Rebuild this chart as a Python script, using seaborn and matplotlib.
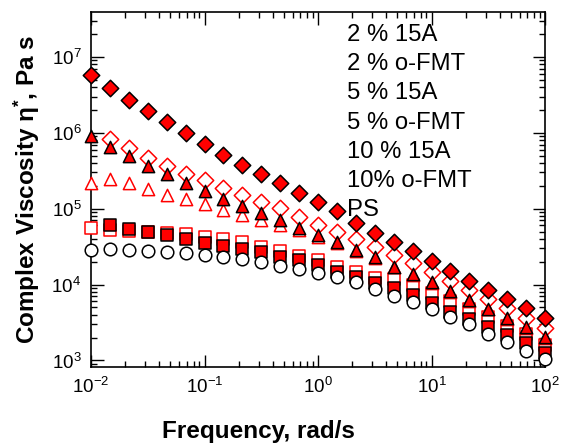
import numpy as np
import pandas as pd
import matplotlib
matplotlib.use("Agg")
import matplotlib.pyplot as plt
import matplotlib.ticker as mticker
import seaborn as sns

# Oscillatory frequency sweep, 6 points per decade (rad/s)
frequency = [0.01, 0.0147, 0.0215, 0.0316, 0.0464, 0.0681,
             0.1, 0.147, 0.215, 0.316, 0.464, 0.681,
             1.0, 1.47, 2.15, 3.16, 4.64, 6.81,
             10.0, 14.7, 21.5, 31.6, 46.4, 68.1, 100.0]

# Complex viscosity (Pa s); NaN where no point was recorded
eta_ps = [2.84e4, 2.93e4, 2.84e4, 2.79e4, 2.70e4, 2.60e4, 2.47e4, 2.32e4,
          2.17e4, 1.96e4, 1.77e4, 1.60e4, 1.40e4, 1.24e4, 1.07e4, 8.73e3,
          7.13e3, 5.83e3, 4.77e3, 3.70e3, 3.02e3, 2.25e3, 1.73e3, 1.35e3, 1.05e3]
eta_2_15a = [np.nan, 6.01e4, 5.32e4, 4.91e4, 4.44e4, 4.01e4, 3.55e4, 3.21e4,
             2.90e4, 2.70e4, 2.32e4, 2.08e4, 1.79e4, 1.47e4, 1.26e4, 1.04e4,
             8.91e3, 7.28e3, 5.66e3, 4.39e3, 3.48e3, 2.79e3, 2.17e3, 1.68e3, 1.24e3]
eta_2_ofmt = [5.62e4, 5.20e4, 5.10e4, 4.90e4, 4.72e4, 4.57e4, 4.18e4, 3.97e4,
              3.66e4, 3.14e4, 2.78e4, 2.39e4, 2.10e4, 1.71e4, 1.47e4, 1.21e4,
              1.17e4, 9.84e3, 7.80e3, 6.07e3, 4.77e3, 3.70e3, 2.87e3, 2.21e3, 1.60e3]
eta_5_15a = [8.94e5, 6.44e5, 4.91e5, 3.62e5, 2.84e5, 2.21e5, 1.70e5, 1.36e5,
             1.08e5, 8.81e4, 7.06e4, 5.59e4, 4.52e4, 3.59e4, 2.84e4, 2.28e4,
             1.71e4, 1.36e4, 1.08e4, 8.21e3, 6.31e3, 4.81e3, 3.62e3, 2.76e3, 2.06e3]
eta_5_ofmt = [2.15e5, 2.48e5, 2.15e5, 1.80e5, 1.53e5, 1.34e5, 1.16e5, 9.70e4,
              8.20e4, 7.06e4, 6.07e4, 5.17e4, 4.26e4, 3.48e4, 2.80e4, 2.26e4,
              1.68e4, 1.33e4, 1.05e4, 8.00e3, 6.10e3, 4.70e3, 3.50e3, 2.70e3, 2.00e3]
eta_10_15a = [5.70e6, 3.88e6, 2.73e6, 1.94e6, 1.37e6, 9.80e5, 7.06e5, 5.17e5,
              3.79e5, 2.84e5, 2.15e5, 1.61e5, 1.23e5, 9.27e4, 6.50e4, 4.80e4,
              3.66e4, 2.76e4, 2.04e4, 1.51e4, 1.12e4, 8.47e3, 6.39e3, 4.86e3, 3.59e3]
eta_10_ofmt = [np.nan, 8.39e5, 6.31e5, 4.72e5, 3.66e5, 2.84e5, 2.37e5, 1.90e5,
               1.51e5, 1.23e5, 1.01e5, 7.80e4, 6.07e4, 4.95e4, 3.94e4, 3.14e4,
               2.44e4, 1.90e4, 1.47e4, 1.11e4, 8.47e3, 6.44e3, 4.86e3, 3.59e3, 2.65e3]

labels = ["2 % 15A", "2 % o-FMT", "5 % 15A", "5 % o-FMT",
          "10 % 15A", "10% o-FMT", "PS"]

sns.set_theme(style="ticks")
plt.rcParams["font.family"] = ["Liberation Sans", "DejaVu Sans"]
plt.rcParams["mathtext.fontset"] = "custom"
plt.rcParams["mathtext.rm"] = "Liberation Sans"
plt.rcParams["mathtext.it"] = "Liberation Sans:italic"
plt.rcParams["mathtext.bf"] = "Liberation Sans:bold"
for key in ("text.color", "axes.labelcolor", "xtick.color", "ytick.color",
            "axes.edgecolor"):
    plt.rcParams[key] = "black"

RED = "#ff0000"
# (values, label, marker, face, edge, size) in drawing order: open marks first,
# then filled marks, and the neat polymer on top
series = [
    (eta_2_ofmt, "2 % o-FMT", "s", "white", RED, 66),
    (eta_5_ofmt, "5 % o-FMT", "^", "white", RED, 78),
    (eta_10_ofmt, "10% o-FMT", "D", "white", RED, 70),
    (eta_2_15a, "2 % 15A", "s", RED, "black", 66),
    (eta_5_15a, "5 % 15A", "^", RED, "black", 78),
    (eta_10_15a, "10 % 15A", "D", RED, "black", 70),
    (eta_ps, "PS", "o", "white", "black", 82),
]

fig = plt.figure(figsize=(5.61, 4.44), dpi=100)
ax = fig.add_axes([91 / 561, 1 - 367 / 444, 454 / 561, 355 / 444])

for vals, lab, mk, fc, ec, sz in series:
    df = pd.DataFrame({"freq": frequency, "eta": vals}).dropna()
    sns.scatterplot(data=df, x="freq", y="eta", marker=mk, s=sz,
                    color=fc, edgecolor=ec, linewidth=1.1, ax=ax,
                    clip_on=False, zorder=3, legend=False)

ax.set_xscale("log")
ax.set_yscale("log")
ax.set_xlim(0.01, 100)
ax.set_ylim(8.2e2, 3.9e7)

ax.xaxis.set_major_locator(mticker.LogLocator(base=10, numticks=10))
ax.yaxis.set_major_locator(mticker.LogLocator(base=10, numticks=10))
for axis in (ax.xaxis, ax.yaxis):
    axis.set_minor_locator(mticker.LogLocator(base=10, subs=np.arange(2, 10), numticks=20))
    axis.set_minor_formatter(mticker.NullFormatter())

ax.tick_params(which="both", direction="in", top=True, right=True,
               color="black", labelcolor="black", width=1.0)
ax.tick_params(which="major", length=9, labelsize=13.5, pad=7)
ax.tick_params(which="minor", length=4.5)
for sp in ax.spines.values():
    sp.set_linewidth(1.2)
    sp.set_color("black")

ax.set_xlabel("Frequency, rad/s", fontsize=17.5, fontweight="bold", color="black")
ax.set_ylabel(r"Complex Viscosity η$^{\mathbf{*}}$, Pa s", fontsize=17.5,
              fontweight="bold", color="black")
ax.xaxis.set_label_coords(0.368, -0.15)
ax.yaxis.set_label_coords(-0.107, 0.5)

# Sample names listed at the upper right of the plot
for i, lab in enumerate(labels):
    ax.text(0.564, 0.935 - i * 0.0822, lab, transform=ax.transAxes,
            fontsize=17.2, va="center", ha="left", color="black", zorder=2)

fig.savefig("out.png", dpi=100)
